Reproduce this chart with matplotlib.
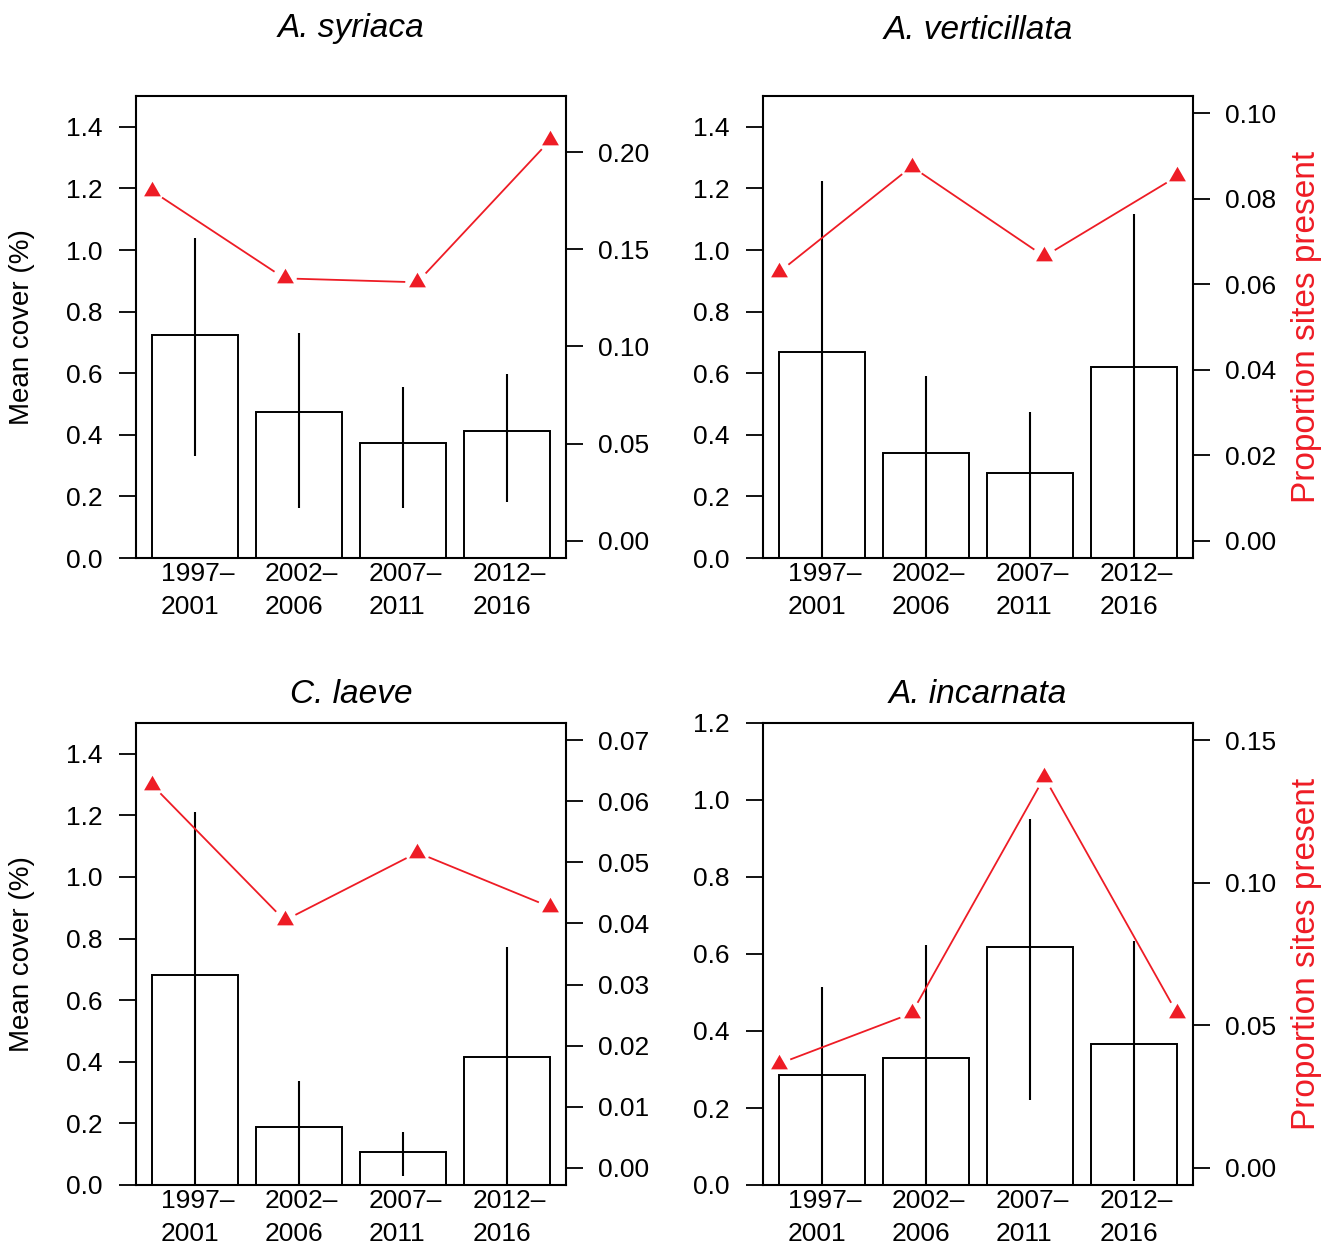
import matplotlib.pyplot as plt
import numpy as np

plt.rcParams['font.family'] = ['Liberation Sans', 'DejaVu Sans']

# data
periods = ["1997\u2013\n2001", "2002\u2013\n2006", "2007\u2013\n2011", "2012\u2013\n2016"]
species = ["A. syriaca", "A. verticillata", "C. laeve", "A. incarnata"]

syriaca_cover = [0.724, 0.474, 0.373, 0.413]
syriaca_lo = [0.330, 0.163, 0.163, 0.183]
syriaca_hi = [1.040, 0.730, 0.555, 0.598]
syriaca_prop = [0.180, 0.135, 0.133, 0.206]

verticillata_cover = [0.670, 0.340, 0.277, 0.621]
verticillata_lo = [0.0, 0.0, 0.0, 0.0]
verticillata_hi = [1.225, 0.591, 0.474, 1.118]
verticillata_prop = [0.0628, 0.0875, 0.0665, 0.0852]

laeve_cover = [0.682, 0.188, 0.107, 0.415]
laeve_lo = [0.0, 0.0, 0.030, 0.0]
laeve_hi = [1.212, 0.339, 0.173, 0.774]
laeve_prop = [0.0627, 0.0405, 0.0516, 0.0427]

incarnata_cover = [0.286, 0.331, 0.617, 0.365]
incarnata_lo = [0.0, 0.0, 0.222, 0.010]
incarnata_hi = [0.513, 0.624, 0.951, 0.633]
incarnata_prop = [0.0365, 0.0542, 0.137, 0.0542]

covers = [syriaca_cover, verticillata_cover, laeve_cover, incarnata_cover]
los = [syriaca_lo, verticillata_lo, laeve_lo, incarnata_lo]
his = [syriaca_hi, verticillata_hi, laeve_hi, incarnata_hi]
props = [syriaca_prop, verticillata_prop, laeve_prop, incarnata_prop]

left_max = [1.5, 1.5, 1.5, 1.2]
left_ticks = [1.4, 1.4, 1.4, 1.2]
right_max = [0.22, 0.10, 0.07, 0.15]
right_step = [0.05, 0.02, 0.01, 0.05]

RED = '#EE1C25'
W, H = 1336, 1248
# box positions in pixels: left, top
boxes = [(136, 96), (763, 96), (136, 723), (763, 723)]
box_w, box_h = 430, 462
title_base = [37, 39, 703, 703]

fig = plt.figure(figsize=(W / 100, H / 100), dpi=100)
tri = [(0, 1), (-0.866, -0.5), (0.866, -0.5)]


def gapped_line(ax, xs, ys, gap=13, **kw):
    # R type="b": segments stop short of the points
    pts = ax.transData.transform(np.column_stack([xs, ys]))
    inv = ax.transData.inverted()
    for p, q in zip(pts[:-1], pts[1:]):
        d = q - p
        L = np.hypot(*d)
        if L <= 2 * gap:
            continue
        u = d / L
        seg = inv.transform(np.array([p + u * gap, q - u * gap]))
        ax.plot(seg[:, 0], seg[:, 1], **kw)


for i in range(4):
    bl, bt = boxes[i]
    rect = [bl / W, 1 - (bt + box_h) / H, box_w / W, box_h / H]
    ax = fig.add_axes(rect)
    xc = 0.7 + 1.2 * np.arange(4)
    ax.bar(xc, covers[i], width=1.0, facecolor='white', edgecolor='black',
           linewidth=1.4, zorder=2)
    ax.vlines(xc, los[i], his[i], color='black', linewidth=1.5, zorder=3)
    ax.set_xlim(0.016, 4.984)
    ax.set_ylim(0, left_max[i])
    ax.set_yticks(np.round(np.arange(0, left_ticks[i] + 0.01, 0.2), 1))
    ax.set_yticklabels([f"{v:.1f}" for v in ax.get_yticks()])
    ax.set_xticks(xc + 0.03)
    ax.set_xticklabels(periods)
    for lbl in ax.get_xticklabels():
        lbl.set_multialignment('left')
        lbl.set_linespacing(1.45)
    ax.tick_params(axis='x', length=0, pad=3, labelsize=19)
    ax.tick_params(axis='y', length=12, width=1.3, pad=12, labelsize=19)
    for s in ax.spines.values():
        s.set_linewidth(1.5)

    ax2 = fig.add_axes(rect, frameon=False)
    ax2.patch.set_visible(False)
    xp = np.arange(1, 5)
    ax2.set_xlim(0.88, 4.12)
    ext = 0.04 * right_max[i]
    ax2.set_ylim(-ext, right_max[i] + ext)
    gapped_line(ax2, xp, props[i], color=RED, linewidth=1.3)
    ax2.plot(xp, props[i], linestyle='none', marker=tri, markersize=14,
             color=RED, markeredgewidth=0)
    rt = np.arange(0, right_max[i] + 1e-9, right_step[i])
    ax2.set_yticks(rt)
    ax2.set_yticklabels([f"{v:.2f}" for v in rt])
    ax2.yaxis.tick_right()
    ax2.set_xticks([])
    ax2.tick_params(axis='y', length=12, width=1.3, pad=11, labelsize=19)

    fig.text((bl + box_w / 2) / W, 1 - title_base[i] / H, species[i],
             fontsize=24, style='italic', ha='center', va='baseline')

# axis titles
for yc in (327, 954):
    fig.text(22 / W, 1 - yc / H, "Mean cover (%)", rotation=90, fontsize=20,
             ha='center', va='center')
    fig.text(1306 / W, 1 - yc / H, "Proportion sites present", rotation=90,
             fontsize=24, color=RED, ha='center', va='center')

fig.savefig('out.png', dpi=100)
